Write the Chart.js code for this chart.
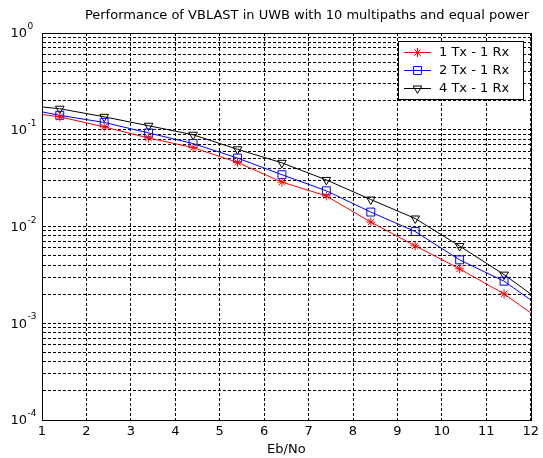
<!DOCTYPE html>
<html lang="en">
<head>
  <meta charset="UTF-8">
  <title>Performance of VBLAST in UWB</title>
  <script src="https://cdn.jsdelivr.net/npm/chart.js"></script>
  <style>
    body { margin: 0; background: #fff; }
    #wrap { width: 543px; height: 458px; }
  </style>
</head>
<body>
  <div id="wrap"><canvas id="ber" width="543" height="458"></canvas></div>

  <script>
    // Data
    const ebNo    = [1, 1.4, 2.4, 3.4, 4.4, 5.4, 6.4, 7.4, 8.4, 9.4, 10.4, 11.4, 12];
    const ber1x1  = [0.144, 0.136, 0.107, 0.0822, 0.0654, 0.0460, 0.0288, 0.0207, 0.0111, 0.00631, 0.00365, 0.00201, 0.00128];
    const ber2x1  = [0.153, 0.141, 0.119, 0.0927, 0.0720, 0.0510, 0.0343, 0.0234, 0.0141, 0.00887, 0.00452, 0.00272, 0.00174];
    const ber4x1  = [0.172, 0.165, 0.136, 0.110, 0.0888, 0.0628, 0.0455, 0.0303, 0.0190, 0.0121, 0.00628, 0.00318, 0.00201];
    const seriesNames = ['1 Tx - 1 Rx', '2 Tx - 1 Rx', '4 Tx - 1 Rx'];
    const xTicks = [1, 2, 3, 4, 5, 6, 7, 8, 9, 10, 11, 12];
    const yDecades = [0, -1, -2, -3, -4];
    const chartTitle = 'Performance of VBLAST in UWB with 10 multipaths and equal power';
    const xTitle = 'Eb/No';

    const FONT = 'DejaVu Sans';

    // markers only on the inner points (lines run to the axis edges)
    const markerRadius = r => ebNo.map((x, i) => (i === 0 || i === ebNo.length - 1) ? 0 : r);

    function makeSet(label, values, color, style, r, rot) {
      return {
        label: label,
        data: ebNo.map((x, i) => ({ x: x, y: values[i] })),
        borderColor: color,
        borderWidth: 1,
        backgroundColor: 'rgba(0,0,0,0)',
        pointStyle: style,
        pointRotation: rot,
        pointRadius: markerRadius(r),
        pointBorderColor: color,
        pointBackgroundColor: 'rgba(0,0,0,0)',
        pointBorderWidth: 1,
        tension: 0
      };
    }

    // Titles, y labels with superscripts, box and legend
    const decorations = {
      id: 'decorations',
      afterDraw(chart) {
        const ctx = chart.ctx;
        const area = chart.chartArea;
        const yScale = chart.scales.y;
        ctx.save();

        // box round the axes
        ctx.strokeStyle = '#000';
        ctx.lineWidth = 1;
        ctx.setLineDash([]);
        ctx.strokeRect(Math.round(area.left) + 0.5, Math.round(area.top) + 0.5,
          Math.round(area.right - area.left), Math.round(area.bottom - area.top));

        // title
        ctx.fillStyle = '#000';
        ctx.font = '13px "' + FONT + '"';
        ctx.textAlign = 'center';
        ctx.textBaseline = 'middle';
        ctx.fillText(chartTitle, 307, 16);

        // y tick labels 10^n
        yDecades.forEach(d => {
          const y = yScale.getPixelForValue(Math.pow(10, d));
          ctx.font = '13px "' + FONT + '"';
          ctx.textAlign = 'right';
          ctx.textBaseline = 'middle';
          ctx.fillText('10', 27, y + 1);
          ctx.font = '9px "' + FONT + '"';
          ctx.textAlign = 'left';
          ctx.textBaseline = 'alphabetic';
          ctx.fillText(String(d), 27.5, y - 4);
        });

        // legend
        const lx = 398, ly = 41, lw = 125, lh = 58;
        ctx.fillStyle = '#fff';
        ctx.fillRect(lx, ly, lw, lh);
        ctx.strokeStyle = '#000';
        ctx.strokeRect(lx + 0.5, ly + 0.5, lw, lh);
        chart.data.datasets.forEach((ds, i) => {
          const y = 52 + i * 18;
          ctx.strokeStyle = ds.borderColor;
          ctx.lineWidth = 1;
          ctx.beginPath();
          ctx.moveTo(404, y + 0.5);
          ctx.lineTo(431, y + 0.5);
          ctx.stroke();
          ctx.fillStyle = 'rgba(0,0,0,0)';
          Chart.helpers.drawPoint(ctx, {
            pointStyle: ds.pointStyle,
            rotation: ds.pointRotation,
            radius: Math.max(...ds.pointRadius),
            borderWidth: 1
          }, 417.5, y + 0.5);
          ctx.fillStyle = '#000';
          ctx.font = '13px "' + FONT + '"';
          ctx.textAlign = 'left';
          ctx.textBaseline = 'middle';
          ctx.fillText(ds.label, 439, y + 1);
        });

        ctx.restore();
      }
    };

    const chart = new Chart(document.getElementById('ber'), {
      type: 'line',
      data: {
        datasets: [
          makeSet(seriesNames[2], ber4x1, '#000000', 'triangle', 5, 180),
          makeSet(seriesNames[1], ber2x1, '#0000ff', 'rect', 5.6, 0),
          makeSet(seriesNames[0], ber1x1, '#ff0000', 'star', 4.5, 0)
        ].reverse()
      },
      options: {
        responsive: false,
        animation: false,
        devicePixelRatio: 1,
        layout: { padding: { top: 33, right: 12, left: 0, bottom: 0 } },
        plugins: {
          legend: { display: false },
          title: { display: false },
          tooltip: { enabled: false }
        },
        scales: {
          x: {
            type: 'linear',
            min: 1,
            max: 12,
            afterBuildTicks: s => { s.ticks = xTicks.map(v => ({ value: v })); },
            afterFit: s => { s.height = 38; },
            grid: { color: '#000', lineWidth: 1, drawTicks: false },
            border: { display: true, color: '#000', width: 1, dash: [3, 2] },
            ticks: {
              color: '#000',
              padding: 4,
              maxRotation: 0,
              autoSkip: false,
              font: { family: FONT, size: 13 }
            },
            title: {
              display: true,
              text: xTitle,
              color: '#000',
              padding: { top: 0, bottom: 1 },
              font: { family: FONT, size: 13 }
            }
          },
          y: {
            type: 'logarithmic',
            min: 1e-4,
            max: 1,
            afterBuildTicks: s => {
              const t = [];
              for (let e = -4; e <= 0; e++) {
                for (let k = 1; k <= 9; k++) {
                  const v = k * Math.pow(10, e);
                  if (v <= 1) t.push({ value: v });
                }
              }
              s.ticks = t;
            },
            afterFit: s => { s.width = 42; },
            grid: { color: '#000', lineWidth: 1, drawTicks: false },
            border: { display: true, color: '#000', width: 1, dash: [3, 2] },
            ticks: { display: false }
          }
        }
      },
      plugins: [decorations]
    });
  </script>
</body>
</html>
